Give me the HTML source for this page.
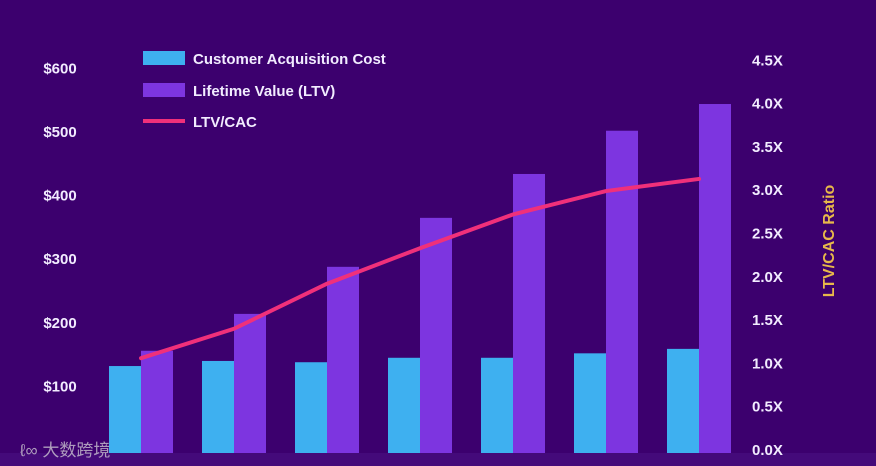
<!DOCTYPE html>
<html><head><meta charset="utf-8"><style>
body{margin:0;background:#3c006e;}
svg{display:block;font-family:"Liberation Sans","Noto Sans CJK SC",sans-serif;}
</style></head><body>
<svg id="c" width="876" height="466" viewBox="0 0 876 466">
<rect width="876" height="466" fill="#3c006e"/>
<rect x="0" y="453" width="876" height="13" fill="#440a7a"/>
<g id="bars"></g><g id="line"></g><g id="axes"></g>
<g>
<rect x="143" y="51" width="42" height="14" fill="#3eb0f0"/>
<text x="193" y="64" fill="#f2ecff" font-size="15" font-weight="bold">Customer Acquisition Cost</text>
<rect x="143" y="83" width="42" height="14" fill="#7d35e0"/>
<text x="193" y="96" fill="#f2ecff" font-size="15" font-weight="bold">Lifetime Value (LTV)</text>
<rect x="143" y="119" width="42" height="4" fill="#f0307a"/>
<text x="193" y="127" fill="#f2ecff" font-size="15" font-weight="bold">LTV/CAC</text>
</g>
<text transform="translate(834,241) rotate(-90)" text-anchor="middle" fill="#e8b84a" font-size="16" font-weight="bold">LTV/CAC Ratio</text>
<text x="20" y="456" fill="#ddd" opacity="0.7" font-size="17">ℓ∞ 大数跨境</text>
</svg>
<script>
const categories=["P1","P2","P3","P4","P5","P6","P7"];
const cacValues=[132,140,138,145,145,152,159];
const ltvValues=[156,214,288,365,434,502,544];
const ratioValues=[1.06,1.40,1.92,2.33,2.72,2.99,3.13];
const leftTicks=[100,200,300,400,500,600];
const rightTicks=[0,0.5,1,1.5,2,2.5,3,3.5,4,4.5];
const NS="http://www.w3.org/2000/svg";
const y0=450;
const yL=v=>y0-v*0.636;
const yR=v=>y0-v*86.6;
const xC=i=>141+i*93;
const bw=32;
function mk(t,a,p){const e=document.createElementNS(NS,t);for(const k in a)e.setAttribute(k,a[k]);p.appendChild(e);return e;}
const bars=document.getElementById('bars'),line=document.getElementById('line'),axes=document.getElementById('axes');
categories.forEach((c,i)=>{
 const a=mk('rect',{x:xC(i)-bw,y:yL(cacValues[i]),width:bw,height:453-yL(cacValues[i]),fill:'#3eb0f0'},bars);
 
 
 const b=mk('rect',{x:xC(i),y:yL(ltvValues[i]),width:bw,height:453-yL(ltvValues[i]),fill:'#7d35e0'},bars);
 
 
});
const pl=mk('polyline',{points:ratioValues.map((v,i)=>xC(i)+','+yR(v)).join(' '),fill:'none',stroke:'#f0307a','stroke-width':4,'stroke-linejoin':'round','stroke-linecap':'round'},line);


leftTicks.forEach(v=>{
 const t=mk('text',{x:60,y:yL(v)+5,'text-anchor':'middle',fill:'#f2ecff','font-size':15,'font-weight':'bold'},axes);
 t.textContent='$'+v;
 
 
});
rightTicks.forEach(v=>{
 const t=mk('text',{x:752,y:yR(v)+5,fill:'#f2ecff','font-size':15,'font-weight':'bold'},axes);
 t.textContent=v.toFixed(1)+'X';
 
 
});
</script>
</body></html>
